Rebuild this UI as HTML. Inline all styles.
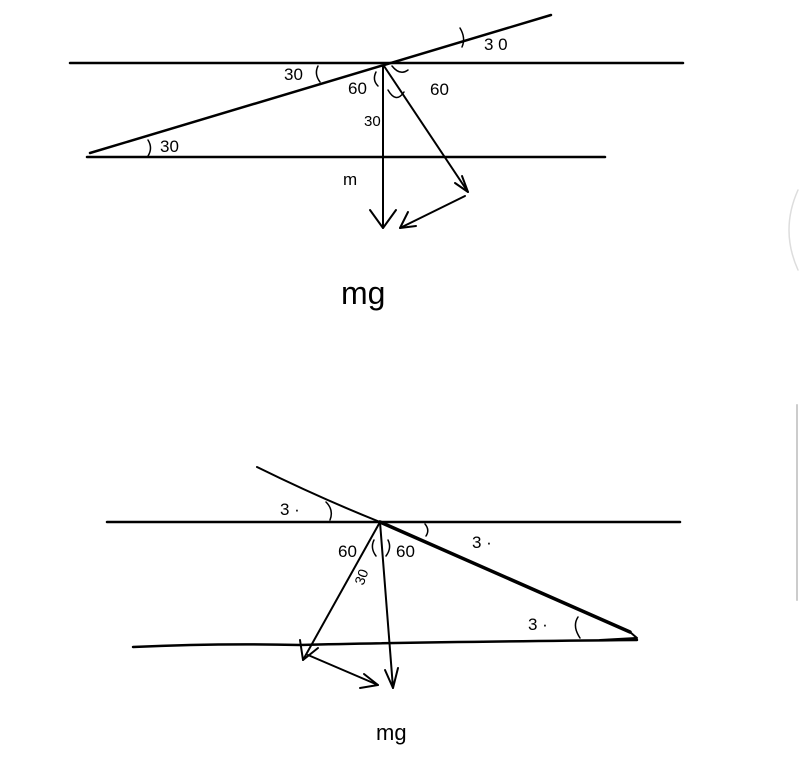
<!DOCTYPE html>
<html><head><meta charset="utf-8"><style>
html,body{margin:0;padding:0;background:#fff;}
svg{display:block}
text{font-family:"Liberation Sans",sans-serif;fill:#000;}
</style></head><body>
<svg width="800" height="762" viewBox="0 0 800 762" xmlns="http://www.w3.org/2000/svg">
<g stroke="#000" fill="none" stroke-linecap="round" stroke-linejoin="round">
<line x1="70" y1="63" x2="683" y2="63" stroke-width="2.5"/>
<line x1="90" y1="153" x2="551" y2="15" stroke-width="2.5"/>
<line x1="87" y1="157" x2="605" y2="157" stroke-width="2.5"/>
<line x1="383" y1="66" x2="383" y2="228" stroke-width="2"/>
<polyline points="370,210 383,228 396,210" stroke-width="2"/>
<line x1="384" y1="66" x2="468" y2="192" stroke-width="2"/>
<polyline points="462,176 468,192 455,183" stroke-width="2"/>
<line x1="465" y1="196" x2="400" y2="228" stroke-width="2"/>
<polyline points="408,212 400,228 416,226" stroke-width="2"/>
<path d="M318,66 Q314,74 320,82" stroke-width="1.5"/>
<path d="M376,72 Q372,80 378,86" stroke-width="1.5"/>
<path d="M392,66 Q400,76 408,70" stroke-width="1.5"/>
<path d="M388,90 Q396,104 404,92" stroke-width="1.5"/>
<path d="M460,28 Q466,38 462,47" stroke-width="1.5"/>
<path d="M148,140 Q153,148 148,156" stroke-width="1.5"/>
<line x1="380" y1="522" x2="630" y2="632" stroke-width="3.5"/>
<line x1="107" y1="522" x2="680" y2="522" stroke-width="2.5"/>
<path d="M257,467 Q320,498 380,522" stroke-width="2"/>
<path d="M630,632 L637,638 L600,640" stroke-width="2"/>
<path d="M133,647 Q220,643 300,645 Q420,642 637,640" stroke-width="2.5"/>
<line x1="380" y1="522" x2="303" y2="660" stroke-width="2"/>
<polyline points="300,640 303,660 318,648" stroke-width="2"/>
<line x1="380" y1="522" x2="393" y2="688" stroke-width="2"/>
<polyline points="385,670 393,688 398,668" stroke-width="2"/>
<line x1="308" y1="655" x2="378" y2="685" stroke-width="2"/>
<polyline points="364,674 378,685 360,688" stroke-width="2"/>
<path d="M326,502 Q334,510 330,520" stroke-width="1.5"/>
<path d="M374,540 Q370,548 376,556" stroke-width="1.5"/>
<path d="M388,540 Q392,548 386,556" stroke-width="1.5"/>
<path d="M425,524 Q430,530 426,536" stroke-width="1.5"/>
<path d="M578,617 Q572,626 580,638" stroke-width="1.5"/>
<path d="M798,190 Q780,230 798,270" stroke="#ddd" stroke-width="1.5"/>
<line x1="797" y1="405" x2="797" y2="600" stroke="#ccc" stroke-width="2"/>
</g>
<text x="284" y="80" style="font-size:17px">30</text>
<text x="348" y="94" style="font-size:17px">60</text>
<text x="430" y="95" style="font-size:17px">60</text>
<text x="364" y="126" style="font-size:15px">30</text>
<text x="484" y="50" style="font-size:17px">3 0</text>
<text x="160" y="152" style="font-size:17px">30</text>
<text x="343" y="185" style="font-size:17px">m</text>
<text x="341" y="304" style="font-size:32px">mg</text>
<text x="280" y="515" style="font-size:17px">3 ·</text>
<text x="338" y="557" style="font-size:17px">60</text>
<text x="396" y="557" style="font-size:17px">60</text>
<text x="355" y="582" style="font-size:14px" transform="rotate(-70 362 578)">30</text>
<text x="472" y="548" style="font-size:17px">3 ·</text>
<text x="528" y="630" style="font-size:17px">3 ·</text>
<text x="376" y="740" style="font-size:22px">mg</text>
</svg>
</body></html>
